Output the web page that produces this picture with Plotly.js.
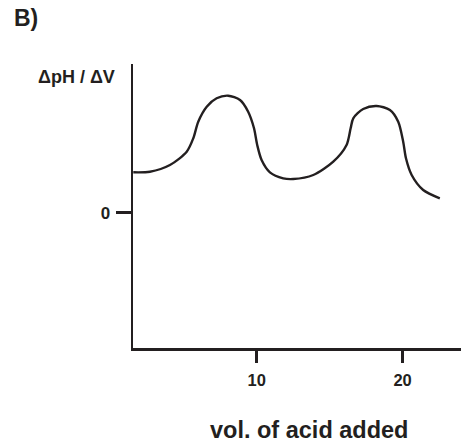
<!DOCTYPE html>
<html>
<head>
<meta charset="utf-8">
<script src="https://cdn.plot.ly/plotly-3.0.1.min.js"></script>
<style>html,body{margin:0;padding:0;background:#fff;}#chart{width:462px;height:444px;}</style>
</head>
<body>
<div id="chart"></div>
<script>
const volume = [1.55, 2.69, 4.06, 5.21, 5.66, 6.00, 6.58, 7.26, 8.05, 8.86, 9.42, 9.82, 10.04, 10.34, 10.91, 11.82, 12.51, 13.88, 15.25, 16.16, 16.44, 16.62, 17.30, 18.22, 19.13, 19.70, 20.04, 20.23, 20.62, 21.41, 22.55];
const dpHdV = [0.404, 0.41, 0.477, 0.61, 0.744, 0.91, 1.06, 1.144, 1.17, 1.127, 1.01, 0.844, 0.677, 0.527, 0.404, 0.344, 0.337, 0.377, 0.51, 0.677, 0.844, 0.944, 1.037, 1.067, 1.027, 0.91, 0.71, 0.544, 0.377, 0.227, 0.144];
const xTicks = [10, 20];
const yTicks = [0];

const ink = '#231f20';
const font = 'Liberation Sans, Arial, sans-serif';

Plotly.newPlot('chart', [{
  x: volume, y: dpHdV, type: 'scatter', mode: 'lines',
  line: {color: ink, width: 2.4, shape: 'spline', smoothing: 0.8},
  hoverinfo: 'skip'
}], {
  width: 462, height: 444,
  margin: {l: 133, r: 1, t: 64, b: 96},
  paper_bgcolor: '#fff', plot_bgcolor: '#fff',
  showlegend: false,
  xaxis: {
    range: [1.53, 24.0], showgrid: false, zeroline: false,
    showline: true, linecolor: ink, linewidth: 2.5,
    tickmode: 'array', tickvals: xTicks, ticktext: xTicks.map(String),
    ticks: 'outside', ticklen: 12, tickwidth: 2.5, tickcolor: ink,
    ticklabelstandoff: 4,
    tickfont: {family: font, size: 16.5, color: ink, weight: 'bold'}
  },
  yaxis: {
    range: [-1.353, 1.487], showgrid: false, zeroline: false,
    showline: true, linecolor: ink, linewidth: 2.5,
    tickmode: 'array', tickvals: yTicks, ticktext: yTicks.map(String),
    ticks: 'outside', ticklen: 15, tickwidth: 2.5, tickcolor: ink,
    ticklabelstandoff: 2,
    tickfont: {family: font, size: 17, color: ink, weight: 'bold'}
  },
  annotations: [
    {text: '<b>B)</b>', xref: 'paper', yref: 'paper', x: -0.369, y: 1.162, xanchor: 'left', yanchor: 'middle', showarrow: false,
     font: {family: font, size: 23, color: ink}},
    {text: '<b>ΔpH / ΔV</b>', xref: 'paper', yref: 'paper', x: -0.049, y: 0.954, xanchor: 'right', yanchor: 'middle', showarrow: false,
     font: {family: font, size: 18, color: ink}},
    {text: '<b>vol. of acid added</b>', xref: 'paper', yref: 'paper', x: 0.537, y: -0.289, xanchor: 'center', yanchor: 'middle', showarrow: false,
     font: {family: font, size: 23.5, color: ink}}
  ]
}, {staticPlot: true, displayModeBar: false});
</script>
</body>
</html>
